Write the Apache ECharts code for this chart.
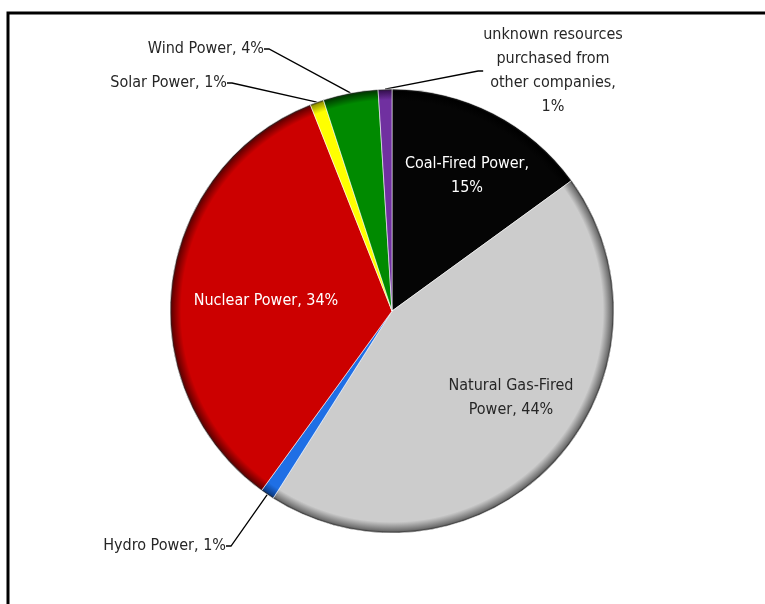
<!DOCTYPE html>
<html>
<head>
<meta charset="utf-8">
<script src="https://cdn.jsdelivr.net/npm/echarts@6/dist/echarts.min.js"></script>
<style>
  html, body { margin: 0; padding: 0; background: #fff; }
  #chart { width: 765px; height: 604px; }
</style>
</head>
<body>
<div id="chart"></div>
<script>
// ---- data ----
const categories = [
  'Coal-Fired Power',
  'Natural Gas-Fired Power',
  'Hydro Power',
  'Nuclear Power',
  'Solar Power',
  'Wind Power',
  'unknown resources purchased from other companies'
];
const values = [15, 44, 1, 34, 1, 4, 1];
// label text prefix (with the original line breaks)
const labelPrefix = [
  'Coal-Fired Power,\n',
  'Natural Gas-Fired\nPower, ',
  'Hydro Power, ',
  'Nuclear Power, ',
  'Solar Power, ',
  'Wind Power, ',
  'unknown resources\npurchased from\nother companies,\n'
];

// ---- styles / layout ----
const colors = ['#050505', '#cccccc', '#1f6fe5', '#cc0000', '#ffff00', '#008a00', '#7030a0'];
const rimColors = ['#000000', '#6e6e6e', '#0b3e8a', '#6a0000', '#9a9a00', '#004000', '#3b1258'];
const insideLabel = [true, true, false, true, false, false, false];
const labelColors = ['#ffffff', '#262626', '#262626', '#ffffff', '#262626', '#262626', '#262626'];
const labelPos = [
  [467, 176, 'center'],
  [511, 398, 'center'],
  [226, 546, 'right'],
  [266, 301, 'center'],
  [227, 83, 'right'],
  [264, 49, 'right'],
  [553, 71, 'center']
];
const CX = 392, CY = 311, R = 222;
const FONT = "'Liberation Sans Narrow', 'DejaVu Sans Condensed', sans-serif";

function grad(i) {
  return {
    type: 'radial', x: CX, y: CY, r: R, global: true,
    colorStops: [
      { offset: 0, color: colors[i] },
      { offset: 0.95, color: colors[i] },
      { offset: 0.99, color: rimColors[i] },
      { offset: 1, color: '#222' }
    ]
  };
}

const chart = echarts.init(document.getElementById('chart'), null, { renderer: 'canvas' });
chart.setOption({
  backgroundColor: '#ffffff',
  animation: false,
  graphic: [{
    type: 'polyline',
    shape: { points: [[8, 604], [8, 13], [765, 13]] },
    style: { stroke: '#000', lineWidth: 3, fill: null }
  }],
  series: [{
    type: 'pie',
    center: [CX, CY],
    radius: R,
    startAngle: 90,
    clockwise: true,
    avoidLabelOverlap: false,
    itemStyle: { borderColor: 'rgba(255,255,255,0.55)', borderWidth: 1 },
    label: {
      fontFamily: FONT,
      fontSize: 16,
      lineHeight: 24,
      color: '#262626',
      formatter: p => labelPrefix[p.dataIndex] + p.value + '%'
    },
    labelLine: {
      length: 8,
      length2: 5,
      lineStyle: { color: '#000', width: 1.3 }
    },
    labelLayout: p => ({
      x: labelPos[p.dataIndex][0],
      y: labelPos[p.dataIndex][1],
      align: labelPos[p.dataIndex][2],
      verticalAlign: 'middle'
    }),
    emphasis: { disabled: true },
    data: categories.map((name, i) => ({
      name: name,
      value: values[i],
      itemStyle: { color: grad(i) },
      label: {
        position: insideLabel[i] ? 'inside' : 'outside',
        color: labelColors[i],
        align: 'center'
      },
      labelLine: { show: !insideLabel[i] }
    }))
  }]
});
</script>
</body>
</html>
